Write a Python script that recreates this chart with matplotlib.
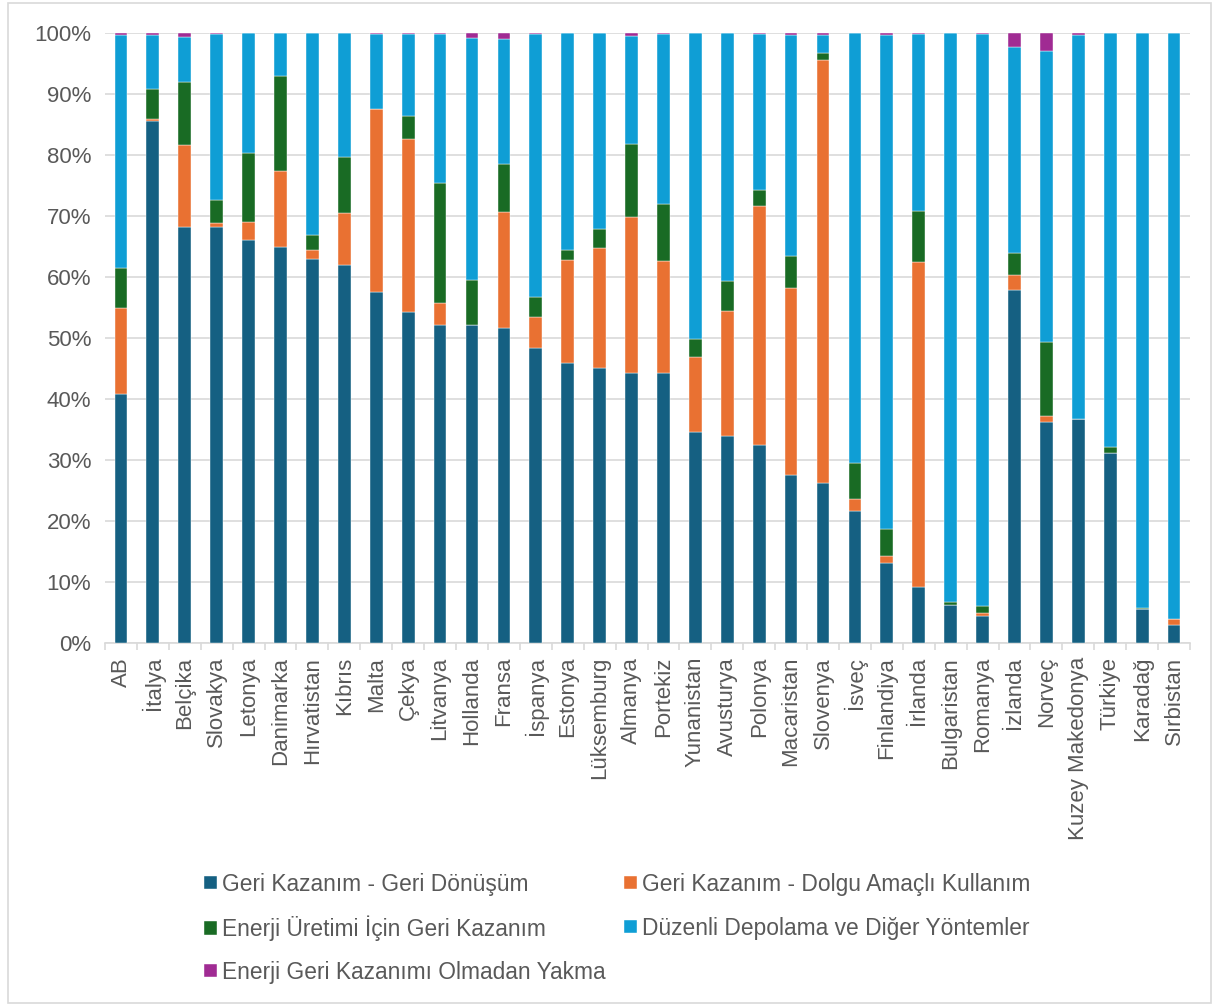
import matplotlib
matplotlib.use("Agg")
import matplotlib.pyplot as plt
import numpy as np
from matplotlib.patches import Rectangle
from matplotlib.ticker import FuncFormatter, MultipleLocator

plt.rcParams['font.family'] = ['Liberation Sans', 'DejaVu Sans']

countries = ["AB", "İtalya", "Belçika", "Slovakya", "Letonya", "Danimarka", "Hırvatistan",
             "Kıbrıs", "Malta", "Çekya", "Litvanya", "Hollanda", "Fransa", "İspanya",
             "Estonya", "Lüksemburg", "Almanya", "Portekiz", "Yunanistan", "Avusturya",
             "Polonya", "Macaristan", "Slovenya", "İsveç", "Finlandiya", "İrlanda",
             "Bulgaristan", "Romanya", "İzlanda", "Norveç", "Kuzey Makedonya", "Türkiye",
             "Karadağ", "Sırbistan"]

geri_donusum = [40.8, 85.5, 68.2, 68.2, 66.0, 65.0, 62.9, 62.0, 57.6, 54.2, 52.2, 52.1, 51.6, 48.3,
                45.9, 45.1, 44.3, 44.2, 34.6, 33.9, 32.5, 27.6, 26.3, 21.6, 13.1, 9.1,
                6.2, 4.4, 57.9, 36.3, 36.8, 31.2, 5.6, 2.9]
dolgu = [14.1, 0.4, 13.4, 0.7, 3.0, 12.3, 1.5, 8.5, 29.9, 28.4, 3.6, 0.0, 19.0, 5.1,
         16.9, 19.7, 25.6, 18.4, 12.3, 20.5, 39.1, 30.6, 69.2, 2.0, 1.2, 53.4,
         0.0, 0.5, 2.4, 0.9, 0.0, 0.0, 0.0, 1.0]
enerji = [6.5, 4.9, 10.4, 3.8, 11.3, 15.7, 2.5, 9.1, 0.0, 3.8, 19.6, 7.4, 7.9, 3.4,
          1.6, 3.0, 11.9, 9.4, 3.0, 5.0, 2.7, 5.2, 1.2, 5.9, 4.4, 8.4,
          0.6, 1.1, 3.6, 12.2, 0.0, 0.9, 0.1, 0.1]
depolama = [38.2, 8.8, 7.3, 27.2, 19.7, 7.0, 33.1, 20.4, 12.3, 13.4, 24.5, 39.6, 20.5, 43.1,
            35.6, 32.2, 17.7, 27.8, 50.1, 40.6, 25.5, 36.2, 2.9, 70.5, 81.0, 29.0,
            93.2, 93.9, 33.8, 47.6, 62.8, 67.9, 94.3, 96.0]
yakma = [0.4, 0.4, 0.7, 0.1, 0.0, 0.0, 0.0, 0.0, 0.2, 0.2, 0.1, 0.9, 1.0, 0.1,
         0.0, 0.0, 0.5, 0.2, 0.0, 0.0, 0.2, 0.4, 0.4, 0.0, 0.3, 0.1,
         0.0, 0.1, 2.3, 3.0, 0.4, 0.0, 0.0, 0.0]

series = [
    ("Geri Kazanım - Geri Dönüşüm", geri_donusum, "#156082"),
    ("Geri Kazanım - Dolgu Amaçlı Kullanım", dolgu, "#E97132"),
    ("Enerji Üretimi İçin Geri Kazanım", enerji, "#196B24"),
    ("Düzenli Depolama ve Diğer Yöntemler", depolama, "#0F9ED5"),
    ("Enerji Geri Kazanımı Olmadan Yakma", yakma, "#A02B93"),
]

fig = plt.figure(figsize=(12.19, 10.06), dpi=100)
ax = fig.add_axes([105/1219, 1-643/1006, (1190-105)/1219, (643-33)/1006])

x = np.arange(len(countries))
bottom = np.zeros(len(countries))
handles = []
for name, vals, col in series:
    v = np.array(vals) / 100.0
    b = ax.bar(x, v, width=0.4, bottom=bottom, color=col, label=name,
               edgecolor="white", linewidth=0.3, zorder=3)
    handles.append(b)
    bottom += v

ax.set_xlim(-0.5, len(countries) - 0.5)
ax.set_ylim(0, 1.0)
ax.yaxis.set_major_locator(MultipleLocator(0.1))
ax.yaxis.set_major_formatter(FuncFormatter(lambda v, p: f"{int(round(v*100))}%"))
ax.grid(axis="y", color="#D9D9D9", linewidth=1.2, zorder=0)
ax.set_axisbelow(True)
for s in ["top", "right", "left"]:
    ax.spines[s].set_visible(False)
ax.spines["bottom"].set_color("#D9D9D9")
ax.spines["bottom"].set_linewidth(1.2)

ax.set_xticks(x)
ax.set_xticklabels(countries, rotation=90, fontsize=16, color="#595959")
ax.tick_params(axis="x", which="major", length=0, pad=10)
ax.set_xticks(np.arange(-0.5, len(countries), 1.0), minor=True)
ax.tick_params(axis="x", which="minor", length=5, color="#D9D9D9", width=1.2)
ax.tick_params(axis="y", length=0, labelsize=16, labelcolor="#595959", pad=10)

# legend entries laid out row by row (Excel style): (column x px, row y px)
legend_pos = [(204, 884), (624, 884), (204, 928), (624, 928), (204, 972)]
for (name, _, _), h, (px, py) in zip(series, handles, legend_pos):
    lg = fig.legend([h], [name], loc="center left",
                    bbox_to_anchor=(px/1219, 1-py/1006),
                    frameon=False, fontsize=16.4, handlelength=0.55, handleheight=0.55,
                    handletextpad=0.25, borderaxespad=0, borderpad=0)
    for t in lg.get_texts():
        t.set_color("#595959")

fig.add_artist(Rectangle((8/1219, 3/1006), 1-16/1219, 1-6/1006, transform=fig.transFigure,
                         fill=False, edgecolor="#D9D9D9", linewidth=1.2))

fig.savefig("out.png", dpi=100)
